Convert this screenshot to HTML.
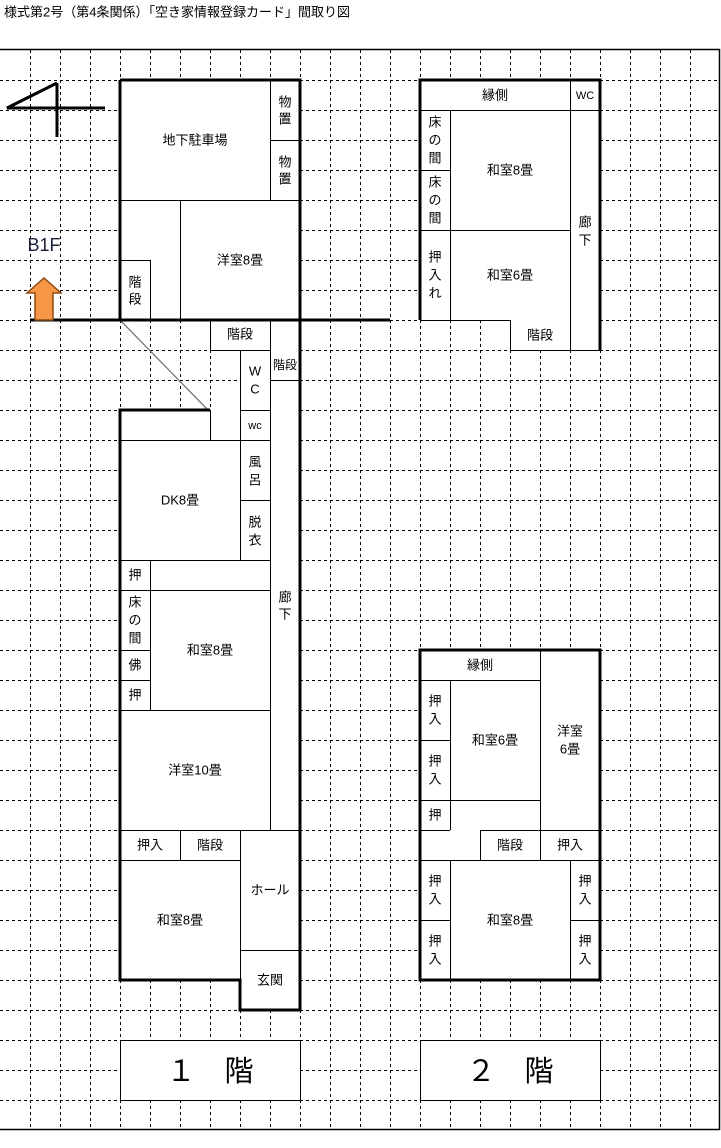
<!DOCTYPE html>
<html><head><meta charset="utf-8"><style>
html,body{margin:0;padding:0;background:#fff;}
svg{display:block;}
text{font-family:"Liberation Sans","Noto Sans CJK JP",sans-serif;font-size:13px;fill:#000;text-anchor:middle;dominant-baseline:central;}
</style></head><body>
<svg width="721" height="1148" viewBox="0 0 721 1148" xmlns="http://www.w3.org/2000/svg">
<rect width="721" height="1148" fill="#fff"/>
<text x="4" y="12" style="text-anchor:start;font-size:13px">様式第2号（第4条関係）「空き家情報登録カード」間取り図</text>
<!-- grid -->
<g stroke="#000" stroke-width="1" stroke-dasharray="3,3">
<path d="M30.5 50V1129M60.5 50V1129M90.5 50V1129M120.5 50V1129M150.5 50V1129M180.5 50V1129M210.5 50V1129M240.5 50V1129M270.5 50V1129M300.5 50V1129M330.5 50V1129M360.5 50V1129M390.5 50V1129M420.5 50V1129M450.5 50V1129M480.5 50V1129M510.5 50V1129M540.5 50V1129M570.5 50V1129M600.5 50V1129M630.5 50V1129M660.5 50V1129M690.5 50V1129"/>
<path d="M0 80.5H719M0 110.5H719M0 140.5H719M0 170.5H719M0 200.5H719M0 230.5H719M0 260.5H719M0 290.5H719M0 320.5H719M0 350.5H719M0 380.5H719M0 410.5H719M0 440.5H719M0 470.5H719M0 500.5H719M0 530.5H719M0 560.5H719M0 590.5H719M0 620.5H719M0 650.5H719M0 680.5H719M0 710.5H719M0 740.5H719M0 770.5H719M0 800.5H719M0 830.5H719M0 860.5H719M0 890.5H719M0 920.5H719M0 950.5H719M0 980.5H719M0 1010.5H719M0 1040.5H719M0 1070.5H719M0 1100.5H719"/>
</g>
<path d="M0 49.5H719.5V1129.5H0" fill="none" stroke="#000" stroke-width="1.5"/>
<!-- white fills -->
<g fill="#fff">
<rect x="120" y="80" width="180" height="240"/>
<rect x="210" y="320" width="90" height="30"/>
<rect x="240" y="350" width="60" height="660"/>
<rect x="120" y="410" width="150" height="570"/>
<rect x="420" y="80" width="180" height="240"/>
<rect x="510" y="320" width="90" height="30"/>
<rect x="420" y="650" width="180" height="330"/>
<rect x="120" y="1040" width="180" height="60"/>
<rect x="420" y="1040" width="180" height="60"/>
</g>
<!-- thin lines -->
<g stroke="#000" stroke-width="1" fill="none">
<path d="M120 200.5H300M270.5 80V200M270 140.5H300M180.5 200V320M120 260.5H150M150.5 260V320"/>
<path d="M210.5 320V350M210 350.5H270M270.5 320V830M240.5 350V560M270 380.5H300M240 410.5H270M240 440.5H270M240 500.5H270M240 560.5H270"/>
<path d="M120 440.5H270M210.5 410V440M120 560.5H240M120 590.5H270M150.5 560V710M120 650.5H150M120 680.5H150M120 710.5H270M120 830.5H300M120 860.5H240M180.5 830V860M240.5 830V980M240 950.5H300"/>
<path d="M420 110.5H600M570.5 80V350M450.5 110V320M420 170.5H450M420 230.5H570M420 320.5H510M510.5 320V350M510 350.5H600"/>
<path d="M420 680.5H540M540.5 650V860M450.5 680V830M420 740.5H450M420 800.5H540M420 830.5H450M480 830.5H600M480.5 830V860M420 860.5H600M450.5 860V980M570.5 860V980M420 920.5H450M570 920.5H600"/>
<rect x="120.5" y="1040.5" width="180" height="60"/>
<rect x="420.5" y="1040.5" width="180" height="60"/>
</g>
<line x1="121" y1="321" x2="207" y2="409" stroke="#777" stroke-width="1.3"/>
<!-- thick lines -->
<g stroke="#000" stroke-width="3" fill="none">
<path d="M120 80H300V1010H240V980H120V410H210"/>
<path d="M120 80V320M30 320H390"/>
<path d="M420 320V80H600V350"/>
<rect x="420" y="650" width="180" height="330"/>
<path d="M57 83L7 108H105M57 83V137"/>
</g>
<!-- arrow -->
<path d="M35 320V293H27L44 278L61 293H53V320Z" fill="#f79646" stroke="#8b4a14" stroke-width="1.5"/>
<text x="44" y="245" style="font-size:18px;fill:#1a1f3a">B1F</text>
<!-- labels B1F -->
<text x="195" y="140">地下駐車場</text>
<text x="285" y="102">物</text><text x="285" y="119">置</text>
<text x="285" y="162">物</text><text x="285" y="179">置</text>
<text x="240" y="260">洋室8畳</text>
<text x="135" y="282">階</text><text x="135" y="299">段</text>
<!-- 1F -->
<text x="240" y="334">階段</text>
<text x="285" y="365" style="font-size:12px">階段</text>
<text x="255" y="371">W</text><text x="255" y="389">C</text>
<text x="255" y="426" style="font-size:11px">wc</text>
<text x="255" y="462">風</text><text x="255" y="480">呂</text>
<text x="255" y="522">脱</text><text x="255" y="540">衣</text>
<text x="180" y="500">DK8畳</text>
<text x="135" y="575">押</text>
<text x="135" y="602">床</text><text x="135" y="620">の</text><text x="135" y="638">間</text>
<text x="135" y="665">佛</text>
<text x="135" y="695">押</text>
<text x="210" y="650">和室8畳</text>
<text x="285" y="597">廊</text><text x="285" y="614">下</text>
<text x="195" y="770">洋室10畳</text>
<text x="150" y="845">押入</text>
<text x="210" y="845">階段</text>
<text x="270" y="890">ホール</text>
<text x="180" y="920">和室8畳</text>
<text x="270" y="980">玄関</text>
<!-- 2F top -->
<text x="495" y="95">縁側</text>
<text x="585" y="96" style="font-size:11px">WC</text>
<text x="435" y="122">床</text><text x="435" y="140">の</text><text x="435" y="158">間</text>
<text x="435" y="182">床</text><text x="435" y="200">の</text><text x="435" y="218">間</text>
<text x="510" y="170">和室8畳</text>
<text x="510" y="275">和室6畳</text>
<text x="435" y="257">押</text><text x="435" y="275">入</text><text x="435" y="293">れ</text>
<text x="585" y="222">廊</text><text x="585" y="240">下</text>
<text x="540" y="335">階段</text>
<!-- 2F bottom -->
<text x="480" y="665">縁側</text>
<text x="435" y="701">押</text><text x="435" y="719">入</text>
<text x="435" y="761">押</text><text x="435" y="779">入</text>
<text x="435" y="815">押</text>
<text x="495" y="740">和室6畳</text>
<text x="570" y="731">洋室</text><text x="570" y="749">6畳</text>
<text x="510" y="845">階段</text>
<text x="570" y="845">押入</text>
<text x="510" y="920">和室8畳</text>
<text x="435" y="881">押</text><text x="435" y="899">入</text>
<text x="435" y="941">押</text><text x="435" y="959">入</text>
<text x="585" y="881">押</text><text x="585" y="899">入</text>
<text x="585" y="941">押</text><text x="585" y="959">入</text>
<text x="210" y="1072" style="font-size:29px">１　階</text>
<text x="510" y="1072" style="font-size:29px">２　階</text>
</svg>
</body></html>
